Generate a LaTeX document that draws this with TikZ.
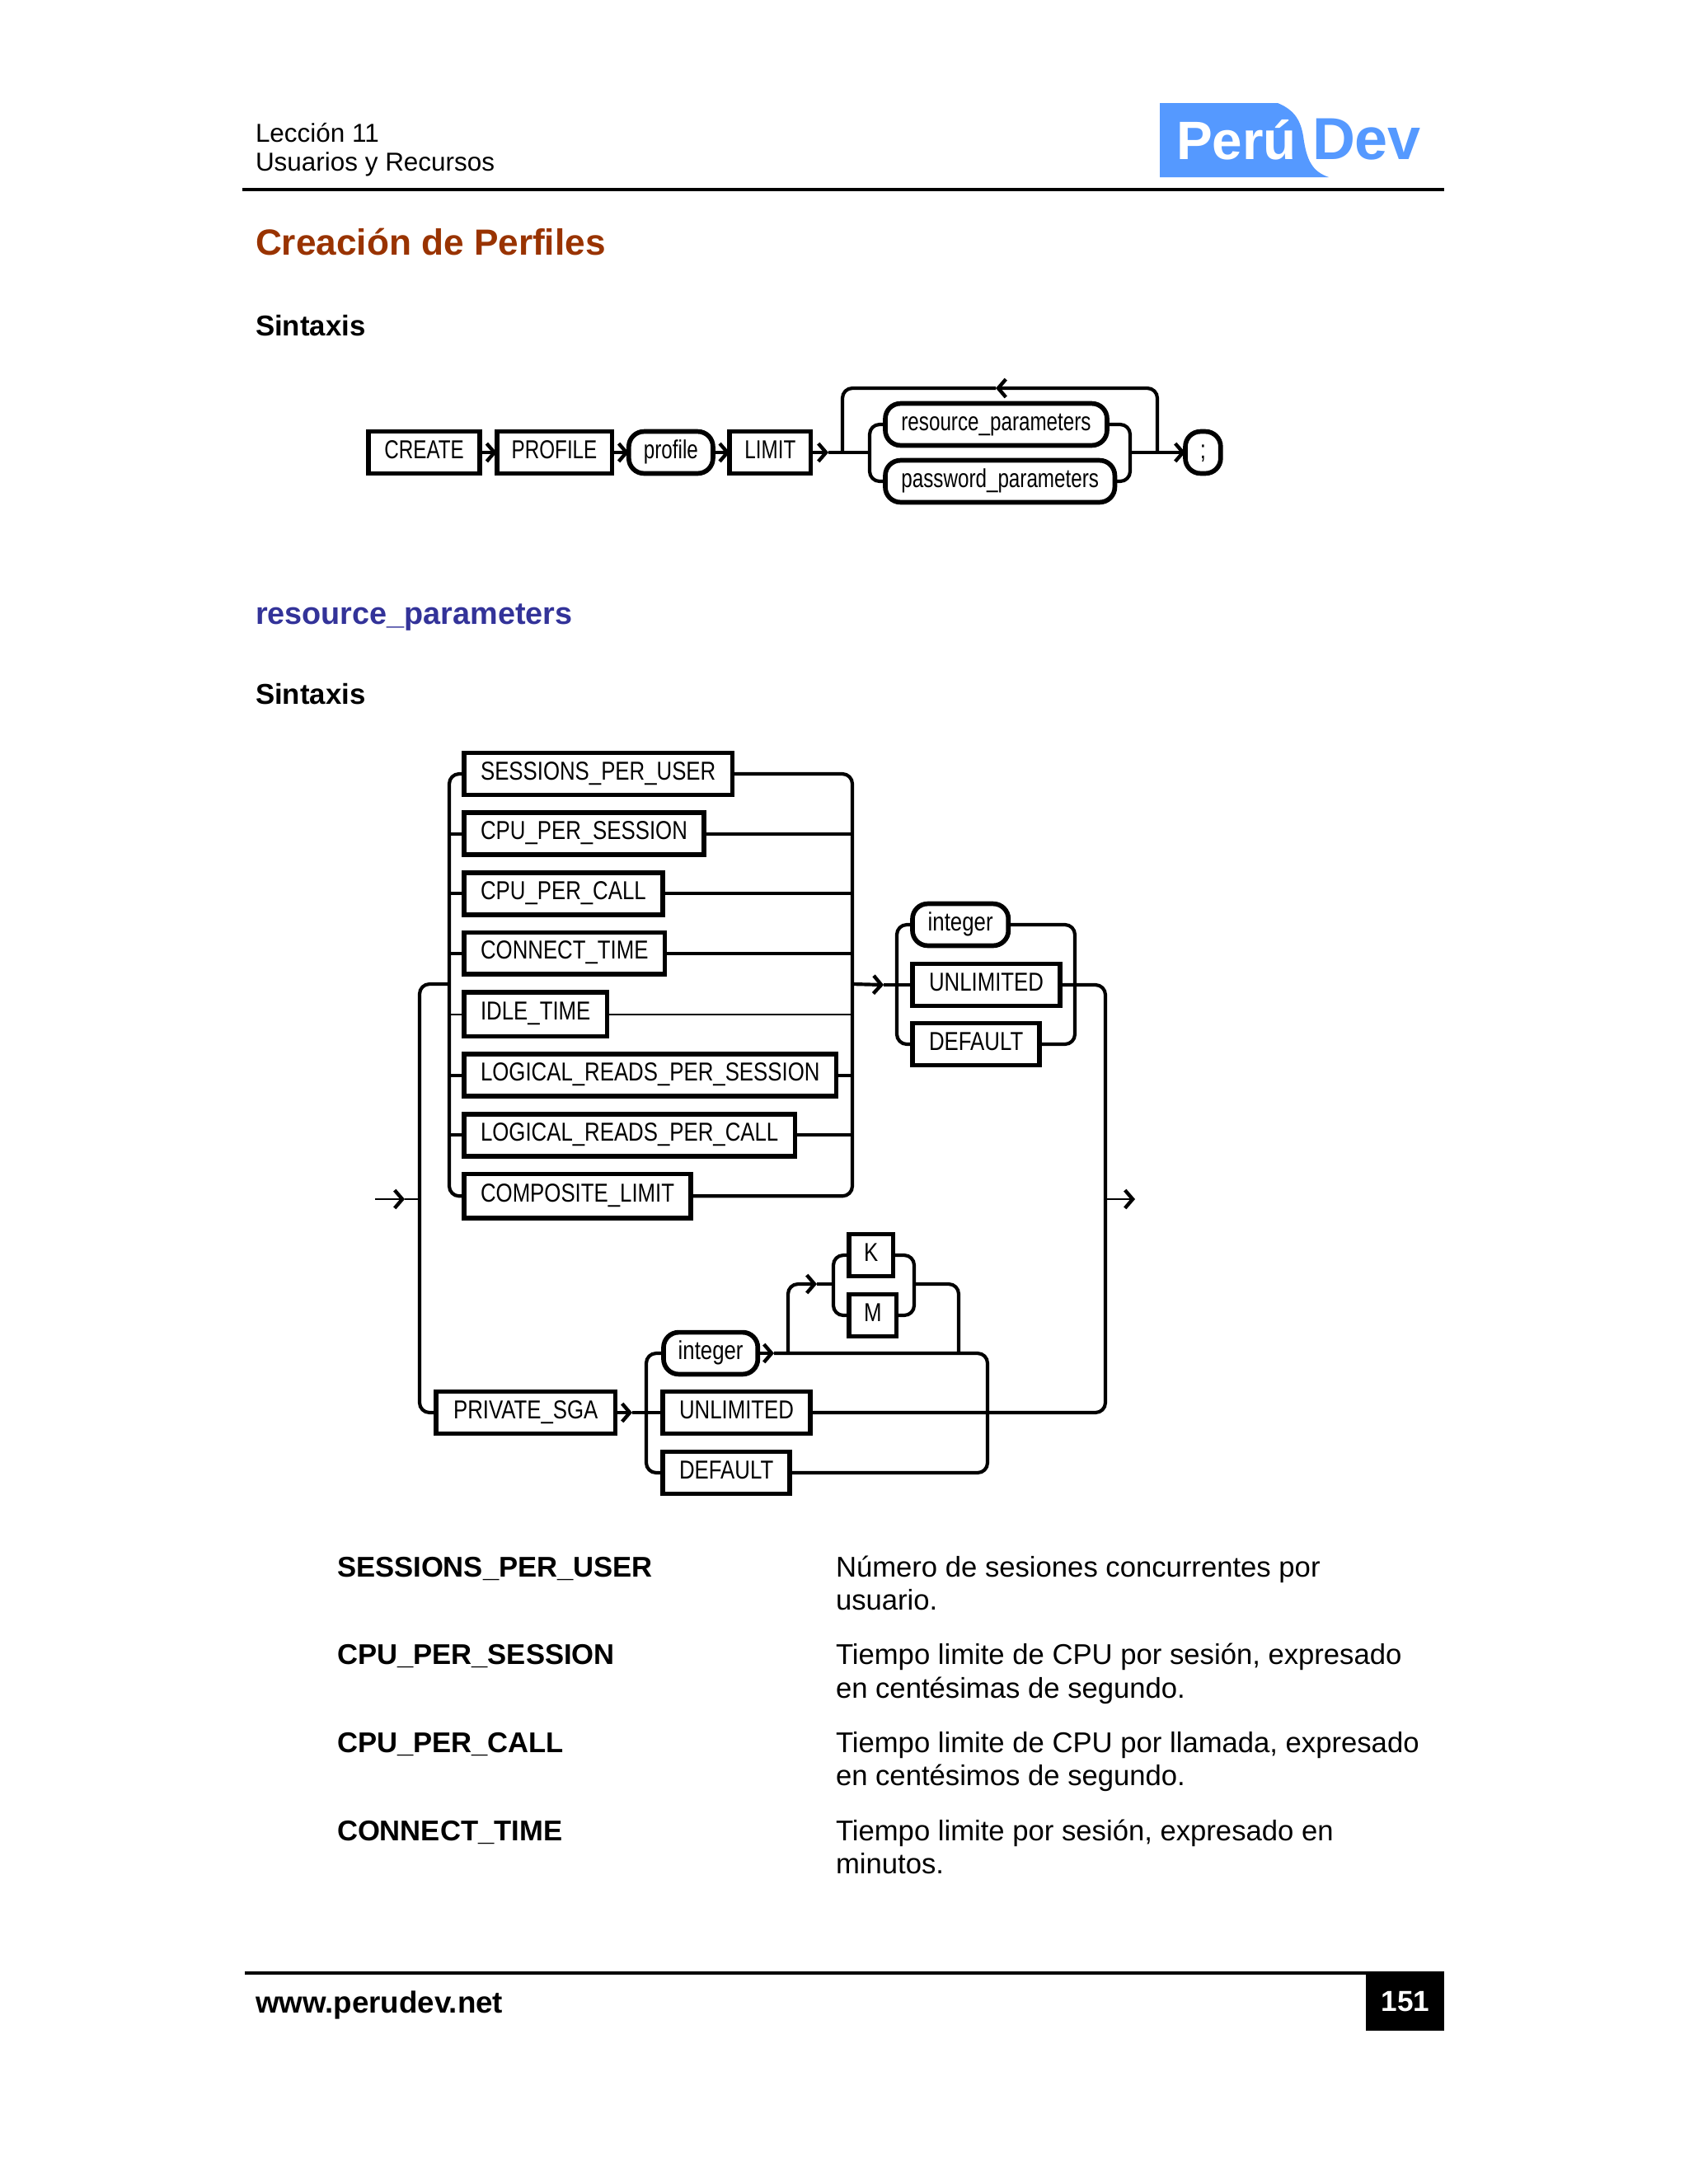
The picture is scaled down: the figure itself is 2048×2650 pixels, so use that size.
\documentclass[tikz,border=0pt]{standalone}
\usepackage{fontspec}
\usepackage{xcolor}
\usepackage{tikz}
\usetikzlibrary{arrows.meta,positioning}
\setmainfont{Liberation Sans}
\newfontfamily\railfont[FakeStretch=0.82]{Liberation Sans}
\newfontfamily\railtopfont[FakeStretch=0.77]{Liberation Sans}
\definecolor{Titulo}{HTML}{993300}
\definecolor{Seccion}{HTML}{333399}
\definecolor{Logo}{HTML}{5599FF}
\tikzset{
  railbox/.style={draw,line width=1.7pt,outer sep=0pt,inner xsep=6pt,inner ysep=0pt,
    minimum height=15.2pt,text height=7.8pt,text depth=3.6pt,font=\railfont\fontsize{9.4}{11}\selectfont},
  railoval/.style={railbox,rounded corners=5.5pt},
  topfont/.style={inner xsep=5.4pt,font=\railtopfont\fontsize{9.4}{11}\selectfont},
  railline/.style={line width=1.25pt,rounded corners=3.6pt},
  railarrow/.style={->,line width=1.25pt},
  thinline/.style={line width=.6pt},
  pagetext/.style={anchor=base west,inner sep=0pt,outer sep=0pt},
}
\begin{document}
\begin{tikzpicture}[x=0.29887pt,y=-0.29887pt,>={Straight Barb[length=2.8pt,width=6.5pt,line width=1.3pt]}]
  \useasboundingbox (0,0) rectangle (2048,2650);
  % header and footer
  \node[pagetext,font=\fontsize{9.4}{11}\selectfont] (lesson) at (310,172) {Lección 11};
  \node[pagetext,font=\fontsize{9.4}{11}\selectfont] (topic) at (310,207) {Usuarios y Recursos};
  \fill[Logo] (1407,125) -- (1550,125) .. controls (1572,134) and (1578,148) .. (1581,165)
    .. controls (1585,195) and (1592,208) .. (1612,215) -- (1407,215) -- cycle;
  \node[pagetext,white,font=\bfseries\fontsize{19.6}{20}\selectfont] (peru) at (1427,193) {Perú};
  \node[pagetext,Logo,font=\bfseries\fontsize{21.5}{22}\selectfont] (dev) at (1592,193) {Dev};
  \draw[line width=1.05pt] (294,230) -- (1752,230);
  \node[pagetext,Titulo,font=\bfseries\fontsize{13.2}{15}\selectfont] (title) at (310,309) {Creación de Perfiles};
  \node[pagetext,font=\bfseries\fontsize{10.4}{12}\selectfont] (syntax) at (310,407) {Sintaxis};
  \node[pagetext,Seccion,font=\bfseries\fontsize{11.3}{13}\selectfont] (resource) at (310,757) {resource\_parameters};
  \node[pagetext,font=\bfseries\fontsize{10.4}{12}\selectfont] (syntaxb) at (310,854) {Sintaxis};
  \draw[line width=1.2pt] (297,2394) -- (1752,2394);
  \node[pagetext,font=\bfseries\fontsize{10.98}{12}\selectfont] (web) at (310,2442) {www.perudev.net};
  \node[fill=black,text=white,anchor=north east,inner sep=0pt,
    minimum width=28.4pt,minimum height=20.9pt,font=\bfseries\fontsize{10.5}{12}\selectfont] (page) at (1753,2393) {151};

  % CREATE PROFILE
  \node[railbox,topfont,anchor=west,inner xsep=5.8pt] (create) at (447,549) {CREATE};
  \node[railbox,topfont,right=6.1pt of create] (profile) {PROFILE};
  \node[railoval,topfont,right=6.1pt of profile] (prof) {profile};
  \node[railbox,topfont,right=6.1pt of prof] (limit) {LIMIT};
  \node[railoval,topfont,anchor=west,inner xsep=5.8pt] (res) at (1074,515) {resource\_parameters};
  \node[railoval,topfont,anchor=west,inner xsep=5.8pt] (pwd) at (1074,584) {password\_parameters};
  \node[railoval,anchor=west,minimum width=12.8pt,inner xsep=0pt] (semi) at (1438,549) {;};
  \coordinate (ltip) at (1005,549);
  \coordinate (ibl) at (1055,549);
  \coordinate (ibr) at (1371,549);
  \coordinate (loopl) at (1022,549);
  \coordinate (loopr) at (1404,549);
  \coordinate (looptip) at (1208,471);
  \draw[railarrow] (create) -- (profile);
  \draw[railarrow] (profile) -- (prof);
  \draw[railarrow] (prof) -- (limit);
  \draw[railarrow] (limit) -- (ltip);
  \draw[railline] (ltip) -- (ibl);
  \draw[railline] (res.west) -| (ibl) |- (pwd.west);
  \draw[railline] (res.east) -| (ibr) |- (pwd.east);
  \draw[railarrow] (ibr) -- (semi);
  \draw[->,railline] (loopr) |- (looptip);
  \draw[railline] (looptip) -| (loopl);

  % resource_parameters
  \node[railbox,anchor=west] (spu) at (563,939) {SESSIONS\_PER\_USER};
  \node[railbox,below=6.5pt of spu.south west,anchor=north west] (cps) {CPU\_PER\_SESSION};
  \node[railbox,below=6.5pt of cps.south west,anchor=north west] (cpc) {CPU\_PER\_CALL};
  \node[railbox,below=6.5pt of cpc.south west,anchor=north west] (cnt) {CONNECT\_TIME};
  \node[railbox,below=6.5pt of cnt.south west,anchor=north west,minimum height=16pt] (idl) {IDLE\_TIME};
  \node[railbox,below=6.5pt of idl.south west,anchor=north west] (lps) {LOGICAL\_READS\_PER\_SESSION};
  \node[railbox,below=6.5pt of lps.south west,anchor=north west] (lpc) {LOGICAL\_READS\_PER\_CALL};
  \node[railbox,below=6.5pt of lpc.south west,anchor=north west,minimum height=16pt] (cmp) {COMPOSITE\_LIMIT};
  \coordinate (lbus) at (545,1194);
  \coordinate (rbus) at (1034,1194);
  \draw[railline] (spu.west) -| (lbus) |- (cmp.west);
  \draw[railline] (spu.east) -| (rbus) |- (cmp.east);
  \foreach \n in {cps,cpc,cnt,lps,lpc} {
    \draw[railline] (lbus |- \n.west) -- (\n.west);
    \draw[railline] (\n.east) -- (\n.east -| rbus);
  }
  \draw[thinline] (lbus |- idl.west) -- (idl.west);
  \draw[thinline] (idl.east) -- (idl.east -| rbus);

  \node[railoval,anchor=west,inner xsep=5.6pt] (int) at (1107,1122) {integer};
  \node[railbox,anchor=west] (unl) at (1107,1195) {UNLIMITED};
  \node[railbox,anchor=west] (def) at (1107,1267) {DEFAULT};
  \coordinate (sbl) at (1088,1195);
  \coordinate (sbr) at (1304,1195);
  \coordinate (stip) at (1072,1195);
  \draw[railarrow] (rbus) -- (stip);
  \draw[railline] (stip) -- (unl.west);
  \draw[railline] (int.west) -| (sbl) |- (def.west);
  \draw[railline] (int.east) -| (sbr) |- (def.east);

  \coordinate (ol) at (509,1455);
  \coordinate (or) at (1341,1455);
  \coordinate (entry) at (455,1455);
  \coordinate (entrytip) at (491,1455);
  \coordinate (exittip) at (1377,1455);
  \draw[->,thinline] (entry) -- (entrytip);
  \draw[thinline] (entrytip) -- (ol);
  \draw[->,thinline] (or) -- (exittip);
  \node[railbox,anchor=west,inner xsep=6.3pt] (sga) at (529,1714) {PRIVATE\_SGA};
  \node[railoval,anchor=west,inner xsep=5.3pt] (intb) at (805,1642) {integer};
  \node[railbox,anchor=west] (unlb) at (804,1714) {UNLIMITED};
  \node[railbox,anchor=west] (defb) at (804,1787) {DEFAULT};
  \draw[railline] (lbus) -| (ol) |- (sga.west);
  \draw[railline] (unl.east) -| (or) |- (unlb.east);
  \coordinate (sgatip) at (767,1714);
  \coordinate (tbl) at (784,1714);
  \coordinate (tbr) at (1198,1714);
  \coordinate (inttip) at (939,1642);
  \draw[railarrow] (sga) -- (sgatip);
  \draw[railline] (sgatip) -- (unlb.west);
  \draw[railline] (unlb.east) -- (tbr);
  \draw[railline] (intb.west) -| (tbl) |- (defb.west);
  \draw[railarrow] (intb) -- (inttip);
  \draw[railline] (inttip) -| (tbr) |- (defb.east);

  \node[railbox,anchor=west,inner xsep=5.4pt] (kilo) at (1030,1523) {K};
  \node[railbox,anchor=west,inner xsep=5.4pt] (mega) at (1030,1596) {M};
  \coordinate (brs) at (956,1642);
  \coordinate (brtip) at (991,1558);
  \coordinate (kml) at (1011,1558);
  \coordinate (kmr) at (1109,1558);
  \coordinate (brj) at (1163,1642);
  \draw[->,railline] (brs) |- (brtip);
  \draw[railline] (brtip) -- (kml);
  \draw[railline] (kilo.west) -| (kml) |- (mega.west);
  \draw[railline] (kilo.east) -| (kmr) |- (mega.east);
  \draw[railline] (kmr) -| (brj);

  % definitions
  \foreach \lbl/\la/\lb [count=\i] in {
    SESSIONS\_PER\_USER/Número de sesiones concurrentes por/usuario.,
    CPU\_PER\_SESSION/{Tiempo limite de CPU por sesión, expresado}/en centésimas de segundo.,
    CPU\_PER\_CALL/{Tiempo limite de CPU por llamada, expresado}/en centésimos de segundo.,
    CONNECT\_TIME/{Tiempo limite por sesión, expresado en}/minutos.} {
    \node[pagetext,font=\bfseries\fontsize{10.35}{12}\selectfont] (lbl\i) at (409,{1913+(\i-1)*106.7}) {\lbl};
    \node[pagetext,font=\fontsize{10.36}{12}\selectfont] (dsca\i) at (1014,{1913+(\i-1)*106.7}) {\la};
    \node[pagetext,font=\fontsize{10.36}{12}\selectfont] (dscb\i) at (1014,{1953.5+(\i-1)*106.7}) {\lb};
  }
\end{tikzpicture}
\end{document}
